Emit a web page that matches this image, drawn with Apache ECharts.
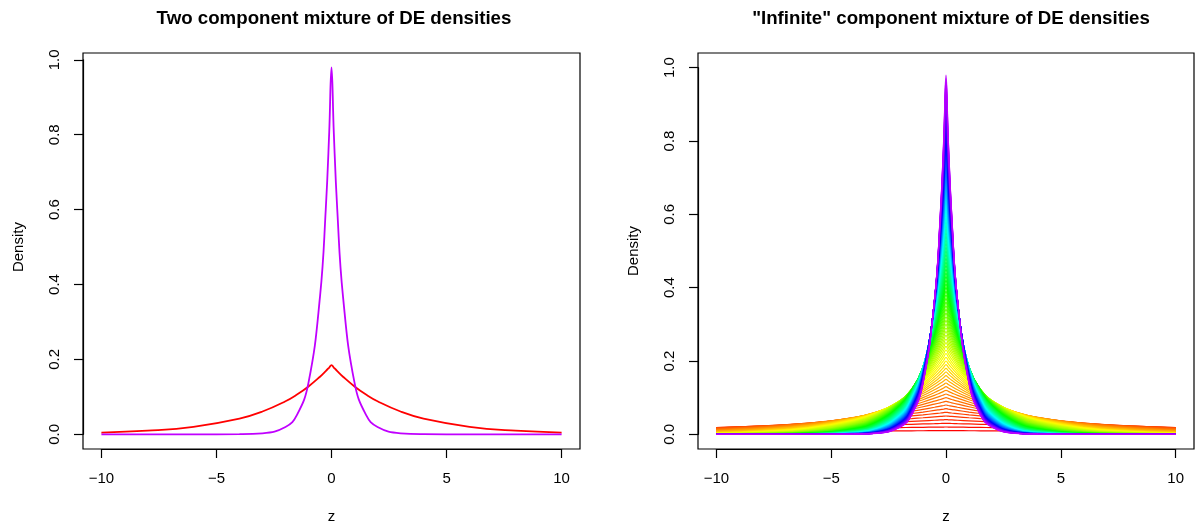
<!DOCTYPE html>
<html>
<head>
<meta charset="utf-8">
<title>DE densities</title>
<script src="https://cdn.jsdelivr.net/npm/echarts@6/dist/echarts.min.js"></script>
<style>
	html, body { margin: 0; padding: 0; background: #fff; }
	#main { width: 1196px; height: 524px; }
</style>
</head>
<body>
<div id="main"></div>
<script>
// z positions the curves were read at (every curve is symmetric about 0)
const zHalf = [0, 0.1, 0.25, 0.5, 1, 1.5, 2, 3, 4, 6, 8, 10];

// left panel: the two components
const wideComp = [0.185, 0.1783, 0.1687, 0.1538, 0.1278, 0.1062, 0.0883, 0.061, 0.0421, 0.0201, 0.0096, 0.0046];
const narrowComp = [0.98, 0.8056, 0.6003, 0.3678, 0.138, 0.0518, 0.0195, 0.0027, 0.0004, 0, 0, 0];

// right panel: one row per component, widest (red) first, narrowest (purple) last
const mixComps = [
	[0.01, 0.01, 0.01, 0.0099, 0.0098, 0.0097, 0.0096, 0.0094, 0.0092, 0.0089, 0.0085, 0.0082],
	[0.02, 0.0199, 0.0198, 0.0196, 0.0192, 0.0188, 0.0185, 0.0177, 0.017, 0.0157, 0.0145, 0.0134],
	[0.03, 0.0298, 0.0296, 0.0291, 0.0283, 0.0274, 0.0266, 0.0251, 0.0236, 0.0209, 0.0186, 0.0165],
	[0.04, 0.0397, 0.0392, 0.0384, 0.0369, 0.0355, 0.0341, 0.0315, 0.029, 0.0248, 0.0211, 0.018],
	[0.05, 0.0495, 0.0488, 0.0476, 0.0452, 0.043, 0.041, 0.037, 0.0335, 0.0274, 0.0225, 0.0184],
	[0.06, 0.0593, 0.0582, 0.0565, 0.0532, 0.0501, 0.0472, 0.0419, 0.0371, 0.0292, 0.023, 0.0181],
	[0.07, 0.069, 0.0676, 0.0652, 0.0608, 0.0568, 0.0529, 0.046, 0.04, 0.0302, 0.0228, 0.0173],
	[0.08, 0.0787, 0.0769, 0.0738, 0.0682, 0.063, 0.0581, 0.0495, 0.0422, 0.0306, 0.0222, 0.0162],
	[0.09, 0.0884, 0.086, 0.0823, 0.0752, 0.0687, 0.0628, 0.0525, 0.0438, 0.0306, 0.0213, 0.0149],
	[0.10, 0.098, 0.0951, 0.0905, 0.0819, 0.0741, 0.067, 0.0549, 0.0449, 0.0301, 0.0202, 0.0135],
	[0.11, 0.1076, 0.1041, 0.0986, 0.0883, 0.0791, 0.0708, 0.0569, 0.0457, 0.0294, 0.0189, 0.0122],
	[0.12, 0.1171, 0.113, 0.1064, 0.0944, 0.0838, 0.0743, 0.0584, 0.046, 0.0284, 0.0176, 0.0109],
	[0.13, 0.1266, 0.1218, 0.1141, 0.1002, 0.088, 0.0774, 0.0595, 0.0459, 0.0273, 0.0163, 0.0097],
	[0.14, 0.1361, 0.1305, 0.1217, 0.1058, 0.092, 0.0799, 0.0605, 0.0456, 0.026, 0.0148, 0.0085],
	[0.15, 0.1455, 0.1392, 0.1292, 0.1112, 0.0957, 0.0824, 0.061, 0.0452, 0.0248, 0.0136, 0.0075],
	[0.16, 0.155, 0.1477, 0.1363, 0.1162, 0.099, 0.0843, 0.0613, 0.0445, 0.0235, 0.0124, 0.0065],
	[0.17, 0.1644, 0.1562, 0.1435, 0.121, 0.102, 0.0862, 0.0614, 0.0437, 0.0221, 0.0112, 0.0057],
	[0.18, 0.1737, 0.1645, 0.1503, 0.1256, 0.1049, 0.0877, 0.0612, 0.0427, 0.0207, 0.0101, 0.0049],
	[0.19, 0.183, 0.1727, 0.1571, 0.13, 0.1075, 0.0889, 0.0608, 0.0416, 0.0194, 0.0091, 0.0043],
	[0.20, 0.1922, 0.181, 0.1638, 0.134, 0.1098, 0.0898, 0.0602, 0.0404, 0.0181, 0.0082, 0.0037],
	[0.21, 0.2014, 0.189, 0.1703, 0.138, 0.1119, 0.0907, 0.0596, 0.0391, 0.0169, 0.0073, 0.0032],
	[0.22, 0.2105, 0.1971, 0.1767, 0.1417, 0.1137, 0.0913, 0.0587, 0.0378, 0.0157, 0.0065, 0.0027],
	[0.23, 0.2197, 0.2049, 0.1829, 0.1451, 0.1155, 0.0918, 0.058, 0.0366, 0.0146, 0.0058, 0.0023],
	[0.24, 0.2287, 0.2129, 0.1889, 0.1486, 0.1169, 0.0919, 0.0569, 0.0353, 0.0135, 0.0052, 0.002],
	[0.25, 0.2378, 0.2206, 0.1947, 0.1516, 0.1181, 0.092, 0.0558, 0.0338, 0.0125, 0.0046, 0.0017],
	[0.26, 0.2467, 0.2283, 0.2005, 0.1547, 0.1191, 0.0918, 0.0546, 0.0325, 0.0115, 0.0041, 0.0014],
	[0.27, 0.2558, 0.2359, 0.2061, 0.1574, 0.1201, 0.0917, 0.0535, 0.0311, 0.0106, 0.0036, 0.0012],
	[0.28, 0.2649, 0.2433, 0.2117, 0.1599, 0.121, 0.0913, 0.0521, 0.0297, 0.0097, 0.0032, 0.001],
	[0.29, 0.2738, 0.2509, 0.2169, 0.1624, 0.1215, 0.0909, 0.0509, 0.0285, 0.0089, 0.0028, 0.0009],
	[0.30, 0.2826, 0.2583, 0.2223, 0.1647, 0.1221, 0.0903, 0.0495, 0.0272, 0.0082, 0.0025, 0.0007],
	[0.31, 0.2914, 0.2654, 0.2272, 0.1668, 0.1225, 0.0897, 0.0482, 0.026, 0.0075, 0.0022, 0.0006],
	[0.32, 0.3002, 0.2726, 0.2323, 0.1686, 0.1226, 0.089, 0.047, 0.0247, 0.0069, 0.0019, 0.0005],
	[0.33, 0.3089, 0.2798, 0.2373, 0.1706, 0.1228, 0.0881, 0.0455, 0.0236, 0.0063, 0.0017, 0.0004],
	[0.34, 0.3176, 0.287, 0.2421, 0.1724, 0.1227, 0.0874, 0.0442, 0.0224, 0.0057, 0.0015, 0.0004],
	[0.35, 0.3262, 0.2937, 0.2468, 0.1738, 0.1225, 0.0863, 0.0428, 0.0213, 0.0053, 0.0013, 0.0003],
	[0.36, 0.3352, 0.3006, 0.2513, 0.1753, 0.1224, 0.0853, 0.0414, 0.0202, 0.0048, 0.0011, 0.0003],
	[0.37, 0.3437, 0.3075, 0.2557, 0.1765, 0.122, 0.0842, 0.0402, 0.0192, 0.0044, 0.001, 0.0002],
	[0.38, 0.3523, 0.3143, 0.2599, 0.1778, 0.1216, 0.0832, 0.0388, 0.0182, 0.004, 0.0009, 0.0002],
	[0.39, 0.3608, 0.321, 0.264, 0.1788, 0.121, 0.0821, 0.0376, 0.0172, 0.0036, 0.0008, 0.0002],
	[0.40, 0.3692, 0.3276, 0.268, 0.1796, 0.1204, 0.0808, 0.0363, 0.0163, 0.0033, 0.0007, 0.0001],
	[0.41, 0.3776, 0.3342, 0.2721, 0.1806, 0.1199, 0.0795, 0.035, 0.0154, 0.003, 0.0006, 0.0001],
	[0.42, 0.386, 0.3405, 0.2759, 0.1814, 0.1193, 0.0781, 0.0338, 0.0146, 0.0027, 0.0005, 0.0001],
	[0.43, 0.3947, 0.347, 0.2797, 0.182, 0.1183, 0.077, 0.0326, 0.0138, 0.0025, 0.0004, 0.0001],
	[0.44, 0.403, 0.3533, 0.2834, 0.1826, 0.1175, 0.0757, 0.0314, 0.013, 0.0022, 0.0004, 0.0001],
	[0.45, 0.4113, 0.3596, 0.2869, 0.183, 0.1166, 0.0744, 0.0302, 0.0123, 0.002, 0.0003, 0.0001],
	[0.46, 0.4195, 0.3655, 0.2903, 0.1835, 0.1157, 0.0731, 0.0291, 0.0116, 0.0018, 0.0003, 0],
	[0.47, 0.4277, 0.3718, 0.2938, 0.1836, 0.1147, 0.0717, 0.028, 0.011, 0.0017, 0.0003, 0],
	[0.48, 0.4358, 0.3778, 0.2971, 0.1838, 0.1138, 0.0706, 0.0269, 0.0103, 0.0015, 0.0002, 0],
	[0.49, 0.4444, 0.3837, 0.3004, 0.1838, 0.1127, 0.0691, 0.0259, 0.0097, 0.0014, 0.0002, 0],
	[0.50, 0.4524, 0.3894, 0.3033, 0.1839, 0.1116, 0.0677, 0.0249, 0.0092, 0.0012, 0.0002, 0],
	[0.51, 0.4605, 0.3952, 0.3062, 0.1839, 0.1105, 0.0663, 0.0239, 0.0086, 0.0011, 0.0001, 0],
	[0.52, 0.4685, 0.4009, 0.3094, 0.1836, 0.1092, 0.065, 0.023, 0.0081, 0.001, 0.0001, 0],
	[0.53, 0.4765, 0.4065, 0.3119, 0.1836, 0.108, 0.0636, 0.022, 0.0076, 0.0009, 0.0001, 0],
	[0.54, 0.4849, 0.412, 0.3148, 0.1836, 0.1069, 0.0621, 0.0212, 0.0072, 0.0008, 0.0001, 0],
	[0.55, 0.4928, 0.418, 0.3176, 0.1832, 0.1056, 0.0609, 0.0203, 0.0068, 0.0007, 0.0001, 0],
	[0.56, 0.5006, 0.4234, 0.3198, 0.1826, 0.1042, 0.0594, 0.0194, 0.0063, 0.0007, 0.0001, 0],
	[0.57, 0.5084, 0.4286, 0.3224, 0.1824, 0.1032, 0.0581, 0.0186, 0.006, 0.0006, 0.0001, 0],
	[0.58, 0.5162, 0.4338, 0.3248, 0.1815, 0.1021, 0.057, 0.0179, 0.0056, 0.0006, 0.0001, 0],
	[0.59, 0.5245, 0.4396, 0.3269, 0.1811, 0.1003, 0.0557, 0.0171, 0.0053, 0.0005, 0, 0],
	[0.60, 0.5322, 0.4446, 0.3293, 0.1807, 0.099, 0.0544, 0.0164, 0.0049, 0.0004, 0, 0],
	[0.61, 0.5399, 0.4496, 0.3312, 0.18, 0.0976, 0.0532, 0.0157, 0.0046, 0.0004, 0, 0],
	[0.62, 0.5475, 0.4546, 0.3335, 0.1794, 0.0965, 0.0519, 0.015, 0.0043, 0.0004, 0, 0],
	[0.63, 0.5557, 0.4599, 0.3358, 0.1789, 0.0951, 0.0507, 0.0144, 0.0041, 0.0003, 0, 0],
	[0.64, 0.5632, 0.4646, 0.3373, 0.1779, 0.0941, 0.0495, 0.0138, 0.0038, 0.0003, 0, 0],
	[0.65, 0.5707, 0.47, 0.3393, 0.1775, 0.0923, 0.0483, 0.0131, 0.0036, 0.0003, 0, 0],
	[0.66, 0.5782, 0.4745, 0.3412, 0.1762, 0.0911, 0.0471, 0.0126, 0.0034, 0.0002, 0, 0],
	[0.67, 0.5863, 0.4791, 0.343, 0.1755, 0.0898, 0.046, 0.0121, 0.0031, 0.0002, 0, 0],
	[0.68, 0.5936, 0.4842, 0.3448, 0.1748, 0.0884, 0.0448, 0.0115, 0.003, 0.0002, 0, 0],
	[0.69, 0.601, 0.4885, 0.3462, 0.1736, 0.0872, 0.0437, 0.011, 0.0028, 0.0002, 0, 0],
	[0.70, 0.6083, 0.4935, 0.3479, 0.1729, 0.0854, 0.0426, 0.0105, 0.0026, 0.0002, 0, 0],
	[0.71, 0.6163, 0.4977, 0.3493, 0.1717, 0.0844, 0.0415, 0.01, 0.0024, 0.0002, 0, 0],
	[0.72, 0.6235, 0.5026, 0.3506, 0.1706, 0.0828, 0.0404, 0.0096, 0.0023, 0.0001, 0, 0],
	[0.73, 0.6307, 0.5066, 0.3518, 0.1694, 0.0818, 0.0393, 0.0091, 0.0021, 0.0001, 0, 0],
	[0.74, 0.6379, 0.5111, 0.3531, 0.1684, 0.0804, 0.0383, 0.0087, 0.002, 0.0001, 0, 0],
	[0.75, 0.6458, 0.5153, 0.354, 0.1673, 0.079, 0.0374, 0.0083, 0.0019, 0.0001, 0, 0],
	[0.76, 0.6528, 0.5198, 0.3557, 0.1664, 0.0775, 0.0363, 0.008, 0.0017, 0.0001, 0, 0],
	[0.77, 0.6599, 0.5236, 0.3565, 0.1648, 0.0765, 0.0354, 0.0076, 0.0016, 0.0001, 0, 0],
	[0.78, 0.6677, 0.5281, 0.3572, 0.1638, 0.0751, 0.0345, 0.0072, 0.0015, 0.0001, 0, 0],
	[0.79, 0.6747, 0.5325, 0.3587, 0.1627, 0.0739, 0.0335, 0.0069, 0.0014, 0.0001, 0, 0],
	[0.80, 0.6816, 0.536, 0.3595, 0.1615, 0.0726, 0.0326, 0.0066, 0.0013, 0.0001, 0, 0],
	[0.81, 0.6885, 0.5403, 0.3605, 0.1604, 0.0713, 0.0318, 0.0063, 0.0012, 0.0001, 0, 0],
	[0.82, 0.6962, 0.5442, 0.3611, 0.1591, 0.07, 0.0308, 0.006, 0.0012, 0.0001, 0, 0],
	[0.83, 0.703, 0.5478, 0.3619, 0.1577, 0.0688, 0.03, 0.0057, 0.0011, 0.0001, 0, 0],
	[0.84, 0.7098, 0.5519, 0.3629, 0.1562, 0.0676, 0.0291, 0.0054, 0.001, 0.0001, 0, 0],
	[0.85, 0.7174, 0.5559, 0.363, 0.1556, 0.0664, 0.0284, 0.0052, 0.0009, 0, 0, 0],
	[0.86, 0.7241, 0.5594, 0.364, 0.154, 0.0652, 0.0276, 0.0049, 0.0009, 0, 0, 0],
	[0.87, 0.7308, 0.5629, 0.3645, 0.1527, 0.0639, 0.0268, 0.0047, 0.0008, 0, 0, 0],
	[0.88, 0.7383, 0.5667, 0.3652, 0.1514, 0.0628, 0.026, 0.0045, 0.0008, 0, 0, 0],
	[0.89, 0.7449, 0.5705, 0.3658, 0.1504, 0.0617, 0.0253, 0.0043, 0.0007, 0, 0, 0],
	[0.90, 0.7515, 0.5742, 0.3663, 0.1485, 0.0605, 0.0246, 0.0041, 0.0007, 0, 0, 0],
	[0.91, 0.7589, 0.5769, 0.3667, 0.1474, 0.0593, 0.0238, 0.0039, 0.0006, 0, 0, 0],
	[0.92, 0.7654, 0.5805, 0.3671, 0.1463, 0.0582, 0.0232, 0.0037, 0.0006, 0, 0, 0],
	[0.93, 0.7719, 0.584, 0.3674, 0.1451, 0.0571, 0.0225, 0.0035, 0.0005, 0, 0, 0],
	[0.94, 0.7793, 0.5875, 0.3672, 0.1434, 0.056, 0.0219, 0.0033, 0.0005, 0, 0, 0],
	[0.95, 0.7857, 0.5909, 0.3677, 0.1425, 0.0549, 0.0213, 0.0032, 0.0005, 0, 0, 0],
	[0.96, 0.792, 0.5942, 0.3677, 0.1411, 0.0539, 0.0206, 0.003, 0.0004, 0, 0, 0],
	[0.97, 0.7993, 0.5975, 0.3676, 0.1397, 0.0529, 0.02, 0.0029, 0.0004, 0, 0, 0],
	[0.98, 0.8056, 0.6003, 0.3678, 0.138, 0.0518, 0.0195, 0.0027, 0.0004, 0, 0, 0]
];

const font = 'Liberation Sans, Arial, Helvetica, sans-serif';
const stroke = { color: '#000', width: 1.2 };
const textStyle = { fontFamily: font, fontSize: 15, color: '#000' };

// values were read at z >= 0, the left half is the same curve reflected
function mirror(vals) {
	let pts = [];
	for (let i = zHalf.length - 1; i > 0; i--) pts.push([-zHalf[i], vals[i]]);
	for (let i = 0; i < zHalf.length; i++) pts.push([zHalf[i], vals[i]]);
	return pts;
}

// like R's rainbow(): full saturation and value, hue in [0, 1)
function hueColor(h) {
	let i = Math.floor(h * 6), f = h * 6 - i;
	let q = Math.round(255 * (1 - f)), t = Math.round(255 * f);
	let rgb = [[255, t, 0], [q, 255, 0], [0, 255, t], [0, q, 255], [t, 0, 255], [255, 0, q]][i % 6];
	return 'rgb(' + rgb.join(',') + ')';
}

// each panel uses three grids:
//   plot  - z from -10 to 10, full box height: curves and the z axis (on the box bottom)
//   dens  - full box width, density 0 to 1: the Density axis (on the box left)
//   box   - the frame, 4% outside the data range as in base R
const panels = [
	{ box: [83, 53, 497, 396], zLeft: 101.41, zWidth: 460.19, dTop: 59.82, dHeight: 374.5, yMin: -0.0392, yMax: 1.0182,
		title: 'Two component mixture of DE densities', titleX: 329 },
	{ box: [698, 53, 496, 396], zLeft: 716.37, zWidth: 459.26, dTop: 67.67, dHeight: 366.67, yMin: -0.04, yMax: 1.04,
		title: '"Infinite" component mixture of DE densities', titleX: 946 }
];

let grids = [], xAxes = [], yAxes = [], titles = [];
function hidden(idx) {
	return { type: 'value', gridIndex: idx, min: 0, max: 1, show: false, axisLine: { onZero: false } };
}

// plot grids: 0, 1
panels.forEach((p, i) => {
	grids.push({ left: p.zLeft, top: p.box[1], width: p.zWidth, height: p.box[3], outerBoundsMode: 'none' });
	xAxes.push({
		type: 'value', gridIndex: i, min: -10, max: 10, interval: 5,
		name: 'z', nameLocation: 'middle', nameGap: 60, nameTextStyle: textStyle,
		axisLine: { show: true, onZero: false, lineStyle: stroke },
		axisTick: { show: true, inside: false, length: 9, lineStyle: stroke },
		splitLine: { show: false },
		axisLabel: Object.assign({ margin: 22, formatter: v => String(v).replace('-', '\u2212') }, textStyle)
	});
	yAxes.push({ type: 'value', gridIndex: i, min: p.yMin, max: p.yMax, show: false, axisLine: { onZero: false } });
	titles.push({
		text: p.title, left: p.titleX, top: 4, textAlign: 'center',
		textStyle: { fontFamily: font, fontSize: 18.7, fontWeight: 'bold', color: '#000' }
	});
});
// density axis grids: 2, 3
panels.forEach((p, i) => {
	grids.push({ left: p.box[0], top: p.dTop, width: p.box[2], height: p.dHeight, outerBoundsMode: 'none' });
	xAxes.push(hidden(i + 2));
	yAxes.push({
		type: 'value', gridIndex: i + 2, min: 0, max: 1, interval: 0.2,
		name: 'Density', nameLocation: 'middle', nameRotate: 90, nameGap: 57, nameTextStyle: textStyle,
		axisLine: { show: true, onZero: false, lineStyle: stroke },
		axisTick: { show: true, inside: false, length: 9, lineStyle: stroke },
		splitLine: { show: false },
		axisLabel: Object.assign({ rotate: 90, margin: 21, formatter: v => v.toFixed(1) }, textStyle)
	});
});
// frame grids: 4, 5
panels.forEach((p, i) => {
	grids.push({
		left: p.box[0], top: p.box[1], width: p.box[2], height: p.box[3],
		show: true, borderColor: '#000', borderWidth: 1.2, outerBoundsMode: 'none'
	});
	xAxes.push(hidden(i + 4));
	yAxes.push(hidden(i + 4));
});

function _line(idx, vals, color, width) {
	return {
		type: 'line',
		xAxisIndex: idx,
		yAxisIndex: idx,
		data: mirror(vals),
		symbol: 'none',
		smooth: 0.45,
		silent: true,
		lineStyle: { color: color, width: width }
	};
}

let series = [
	_line(0, wideComp, '#ff0000', 1.8),
	_line(0, narrowComp, '#c000ff', 1.8)
];
mixComps.forEach((row, i) => {
	series.push(_line(1, row, hueColor(0.79 * i / (mixComps.length - 1)), 1.2));
});

const chart = echarts.init(document.getElementById('main'));
chart.setOption({
	animation: false,
	backgroundColor: '#fff',
	title: titles,
	grid: grids,
	xAxis: xAxes,
	yAxis: yAxes,
	series: series
});
</script>
</body>
</html>
